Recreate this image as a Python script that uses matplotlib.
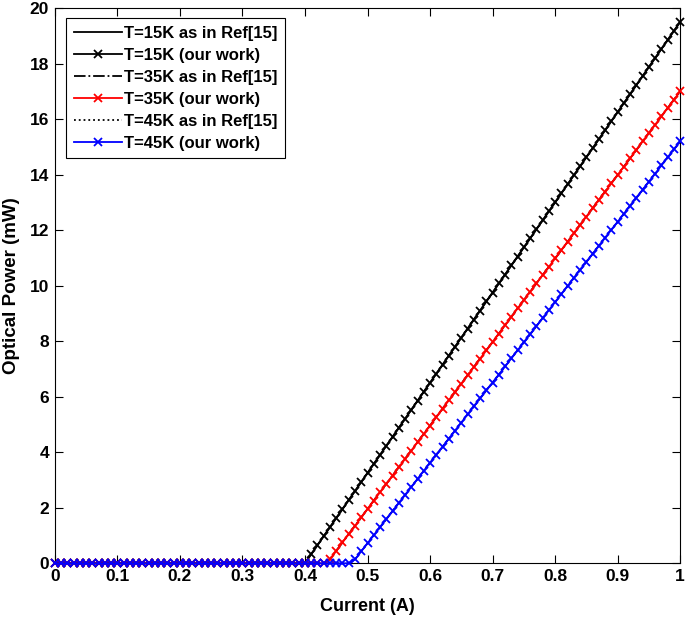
import numpy as np
import matplotlib
matplotlib.use("Agg")
import matplotlib.pyplot as plt

plt.rcParams['font.family'] = ['Liberation Sans', 'DejaVu Sans']

current = [round(i * 0.01, 2) for i in range(101)]

p15 = [0.0] * 40 + [
    0.00, 0.33, 0.65, 0.98, 1.30, 1.63, 1.95, 2.28, 2.60, 2.93,
    3.25, 3.58, 3.90, 4.23, 4.55, 4.88, 5.20, 5.53, 5.85, 6.18,
    6.50, 6.83, 7.15, 7.48, 7.80, 8.13, 8.45, 8.78, 9.10, 9.43,
    9.75, 10.08, 10.40, 10.73, 11.05, 11.38, 11.70, 12.03, 12.35, 12.68,
    13.00, 13.33, 13.65, 13.98, 14.30, 14.63, 14.95, 15.28, 15.60, 15.93,
    16.25, 16.58, 16.90, 17.23, 17.55, 17.88, 18.20, 18.53, 18.85, 19.18,
    19.50]

p35 = [0.0] * 44 + [
    0.15, 0.45, 0.75, 1.05, 1.35, 1.65, 1.96, 2.26, 2.56, 2.86,
    3.16, 3.46, 3.76, 4.06, 4.36, 4.66, 4.96, 5.27, 5.57, 5.87,
    6.17, 6.47, 6.77, 7.07, 7.37, 7.67, 7.97, 8.27, 8.58, 8.88,
    9.18, 9.48, 9.78, 10.08, 10.38, 10.68, 10.98, 11.28, 11.58, 11.89,
    12.19, 12.49, 12.79, 13.09, 13.39, 13.69, 13.99, 14.29, 14.59, 14.89,
    15.20, 15.50, 15.80, 16.10, 16.40, 16.70, 17.00]

p45 = [0.0] * 48 + [
    0.14, 0.43, 0.72, 1.01, 1.30, 1.59, 1.88, 2.17, 2.46, 2.75,
    3.04, 3.33, 3.62, 3.91, 4.20, 4.49, 4.78, 5.07, 5.36, 5.65,
    5.94, 6.23, 6.51, 6.80, 7.09, 7.38, 7.67, 7.96, 8.25, 8.54,
    8.83, 9.12, 9.41, 9.70, 9.99, 10.28, 10.57, 10.86, 11.15, 11.44,
    11.73, 12.02, 12.30, 12.59, 12.88, 13.17, 13.46, 13.75, 14.04, 14.33,
    14.62, 14.91, 15.20]

labels = ["T=15K as in Ref[15]", "T=15K (our work)", "T=35K as in Ref[15]",
          "T=35K (our work)", "T=45K as in Ref[15]", "T=45K (our work)"]
xticks = [0, 0.1, 0.2, 0.3, 0.4, 0.5, 0.6, 0.7, 0.8, 0.9, 1]
yticks = [0, 2, 4, 6, 8, 10, 12, 14, 16, 18, 20]

fig = plt.figure(figsize=(6.85, 6.19), dpi=100)
ax = fig.add_axes([0.080, 0.090, 0.913, 0.897])

ms = 6
mew = 1.3
kw = dict(clip_on=False)
ax.plot(current, p15, color='black', ls='-', lw=1.3, label=labels[0], zorder=2, **kw)
ax.plot(current, p15, color='black', ls='-', lw=1.3, marker='x', ms=ms, mew=mew, label=labels[1], zorder=3, **kw)
ax.plot(current, p35, color='black', ls='-.', lw=1.3, label=labels[2], zorder=2, **kw)
ax.plot(current, p35, color='red', ls='-', lw=1.3, marker='x', ms=ms, mew=mew, label=labels[3], zorder=3, **kw)
ax.plot(current, p45, color='black', ls=':', lw=1.3, label=labels[4], zorder=2, **kw)
ax.plot(current, p45, color='blue', ls='-', lw=1.3, marker='x', ms=ms, mew=mew, label=labels[5], zorder=4, **kw)

ax.set_xlim(0, 1)
ax.set_ylim(0, 20)
ax.set_xticks(xticks)
ax.set_xticklabels([f"{t:g}" for t in xticks])
ax.set_yticks(yticks)
ax.set_yticklabels([str(t) for t in yticks])
ax.tick_params(direction='in', top=True, right=True, labelsize=12.5, length=6, width=0.8, pad=4)
for lab in ax.get_xticklabels() + ax.get_yticklabels():
    lab.set_fontweight('bold')
for sp in ax.spines.values():
    sp.set_linewidth(0.8)

ax.set_xlabel("Current (A)", fontsize=13, fontweight='bold', labelpad=10)
ax.set_ylabel("Optical Power (mW)", fontsize=13.5, fontweight='bold', labelpad=7)

leg = ax.legend(loc='upper left', bbox_to_anchor=(0.018, 0.982),
                prop={'weight': 'bold', 'size': 12},
                frameon=True, fancybox=False, edgecolor='black', framealpha=1,
                handlelength=2.9, handletextpad=0.15, borderpad=0.45, labelspacing=0.42,
                borderaxespad=0)
leg.get_frame().set_linewidth(0.8)
leg.set_zorder(10)

fig.savefig("out.png", dpi=100)
